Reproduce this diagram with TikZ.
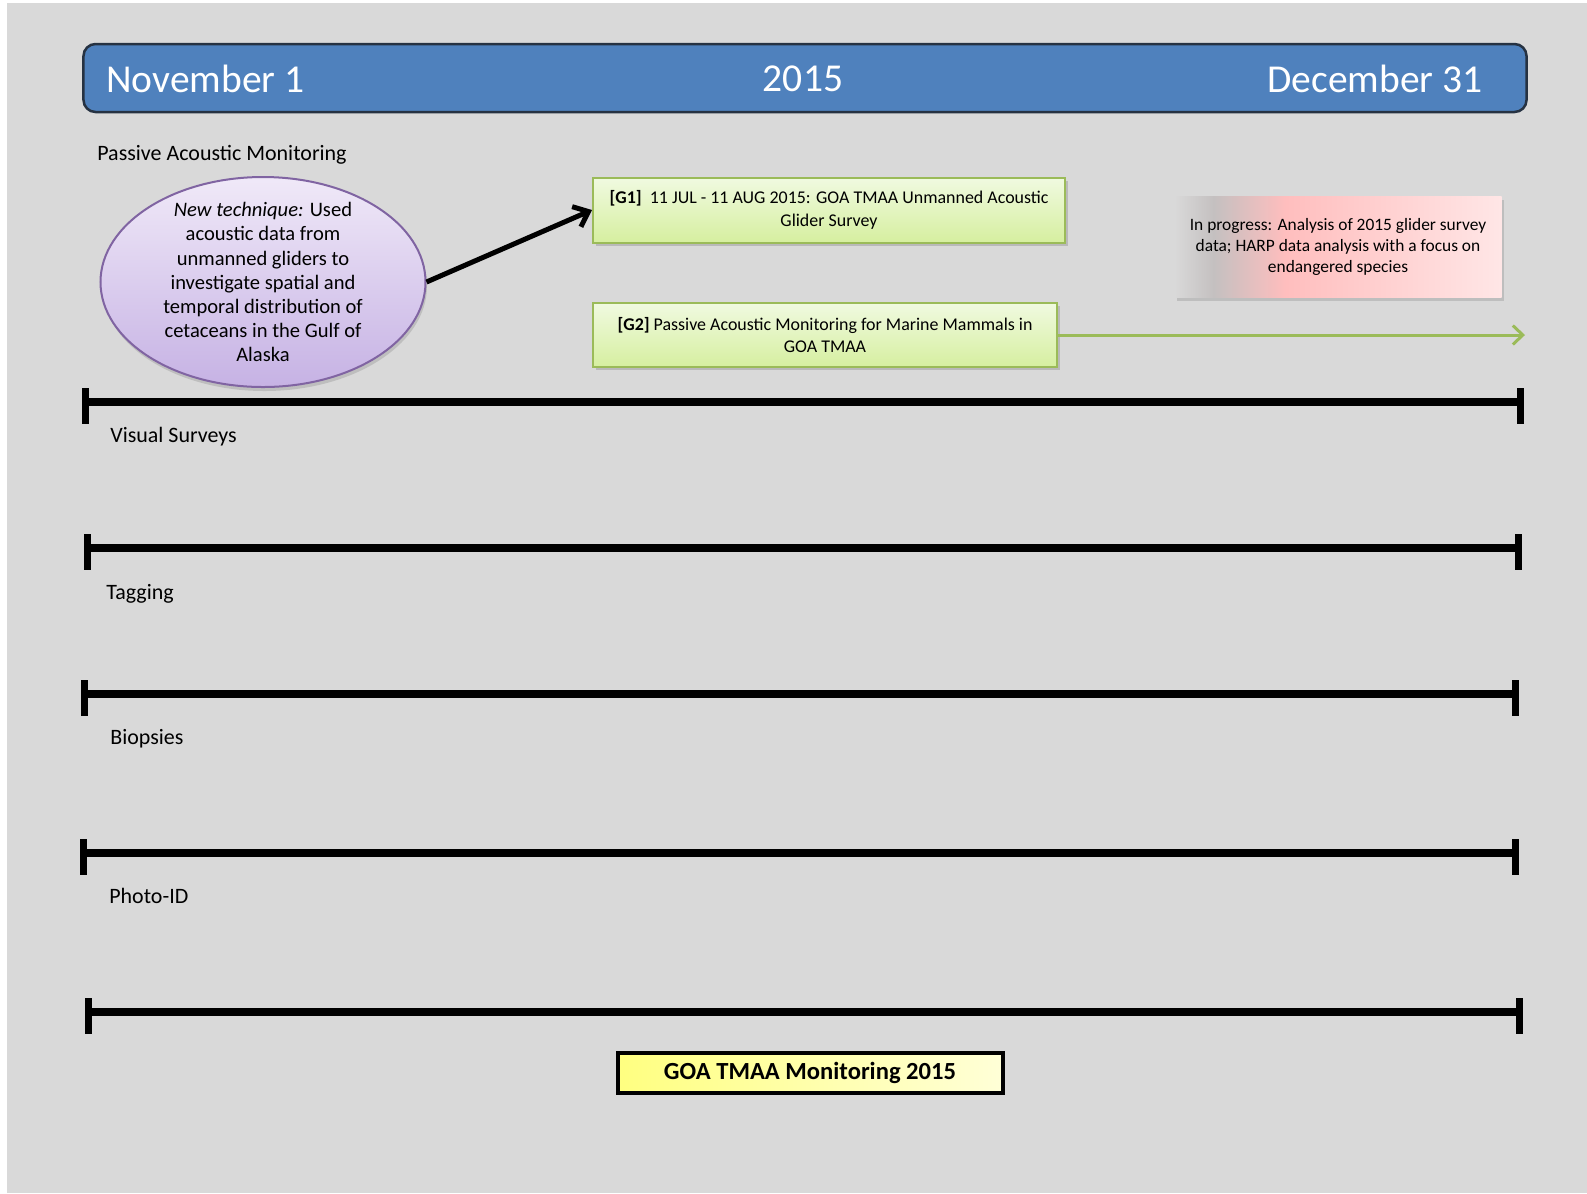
\documentclass[tikz,border=0pt]{standalone}
\usepackage{fontspec}
\setmainfont{Carlito}
\usepackage{xcolor}
\usepackage{tikz}
\usetikzlibrary{shadows}
\usetikzlibrary{positioning}
\usetikzlibrary{arrows.meta,shapes}
\usetikzlibrary{calc}

\definecolor{bggray}{RGB}{217,217,217}
\definecolor{hdrblue}{RGB}{79,129,189}
\definecolor{hdrline}{RGB}{38,50,66}
\definecolor{lilactop}{RGB}{240,233,248}
\definecolor{lilacbot}{RGB}{198,178,228}
\definecolor{lilacline}{RGB}{128,100,162}
\definecolor{greentop}{RGB}{240,250,224}
\definecolor{greenbot}{RGB}{214,239,160}
\definecolor{greenline}{RGB}{155,187,89}
\definecolor{pinkmid}{RGB}{255,190,190}
\definecolor{pinkend}{RGB}{255,230,230}
\definecolor{fadegray}{RGB}{196,192,192}
\definecolor{yelltop}{RGB}{255,255,128}
\definecolor{yellend}{RGB}{255,255,215}

\pgfdeclarehorizontalshading{pinkfade}{100bp}{color(0bp)=(bggray); color(25bp)=(bggray); color(31bp)=(fadegray); color(42bp)=(pinkmid); color(75bp)=(pinkend); color(100bp)=(pinkend)}

\tikzstyle{hdrbar}=[rectangle,rounded corners=2.4mm,draw=hdrline,line width=0.5mm,fill=hdrblue,minimum width=288.6mm,minimum height=13.6mm]
\tikzstyle{hdrtext}=[text=white,font=\fontsize{22.5}{27}\selectfont,inner sep=0pt]
\tikzstyle{rowlabel}=[anchor=west,font=\fontsize{12.5}{15}\selectfont,inner sep=0pt]
\tikzstyle{pamellipse}=[ellipse,draw=lilacline,line width=0.4mm,top color=lilactop,bottom color=lilacbot,minimum width=65mm,minimum height=42mm,drop shadow={shadow xshift=0.3mm,shadow yshift=-0.8mm,opacity=0.3}]
\tikzstyle{pamtext}=[align=center,inner sep=0pt,font=\fontsize{11.7}{13.7}\selectfont]
\tikzstyle{gbox}=[rectangle,draw=greenline,line width=0.4mm,top color=greentop,bottom color=greenbot,align=center,font=\fontsize{10.2}{13}\selectfont,drop shadow={shadow xshift=0.5mm,shadow yshift=-0.6mm,opacity=0.35}]
\tikzstyle{progbox}=[rectangle,shading=pinkfade,align=center,minimum width=65.4mm,minimum height=20.2mm,font=\fontsize{9.9}{12}\selectfont,drop shadow={shadow xshift=0.5mm,shadow yshift=-0.6mm,opacity=0.3}]
\tikzstyle{titlebox}=[rectangle,draw=black,line width=0.8mm,left color=yelltop,right color=yellend,minimum width=77mm,minimum height=8mm,font=\bfseries\fontsize{14}{17}\selectfont]
\tikzstyle{bar}=[draw,line width=1.6mm]
\tikzstyle{tick}=[draw,line width=1.4mm]
\tikzstyle{blackarrow}=[draw,line width=1mm,-{Straight Barb[length=2.6mm,width=4.4mm]}]
\tikzstyle{greenarrow}=[draw,greenline,line width=0.6mm,-{Straight Barb[length=2mm,width=3.8mm]}]

\begin{document}
\begin{tikzpicture}[x=0.2mm,y=-0.2mm]

 \useasboundingbox (0,0) rectangle (1587,1193);
 \fill[white] (0,0) rectangle (1587,1193);
 \fill[bggray] (7,3) rectangle (1587,1193);

 %header
 \node[hdrbar] (hdr) at (805,78) {};
 \node[hdrtext,anchor=west] (nov) at (106,79) {November 1};
 \node[hdrtext] (year) at (803,79) {2015};
 \node[hdrtext,anchor=east] (dec) at (1483,79) {December 31};

 %rows
 \foreach \x/\y/\name/\label in {97/155/pamlbl/Passive Acoustic Monitoring, 110/437/vislbl/Visual Surveys, 106/594/taglbl/Tagging, 110/739/biolbl/Biopsies, 109/896/photolbl/Photo-ID}
        \node[rowlabel] (\name) at (\x,\y) {\label};

 \foreach \i/\xl/\xr/\y in {1/85/1520/402, 2/87/1518/548, 3/84/1515/694, 4/83/1515/853, 5/88/1519/1012}
 {
   \coordinate (L\i) at (\xl,\y);
   \coordinate (R\i) at (\xr,\y);
   \path[bar] (L\i) -- (R\i);
   \path[tick] ([yshift=2.8mm]L\i) -- ([yshift=-4.4mm]L\i);
   \path[tick] ([yshift=2.8mm]R\i) -- ([yshift=-4.4mm]R\i);
 }

 %PAM
 \node[pamellipse] (pam) at (263,282) {};
 \node[pamtext] (pamtxt) at (pam.center) {\textit{New technique:} Used\\acoustic data from\\unmanned gliders to\\investigate spatial and\\temporal distribution of\\cetaceans in the Gulf of\\Alaska};

 \node[gbox,minimum width=94.4mm,minimum height=13mm] (g1) at (829,210) {\textbf{[G1]}\ \ 11 JUL - 11 AUG 2015: GOA TMAA Unmanned Acoustic\\Glider Survey};
 \node[gbox,minimum width=92.8mm,minimum height=12.8mm] (g2) at (825,335) {\textbf{[G2]} Passive Acoustic Monitoring for Marine Mammals in\\GOA TMAA};

 \node[progbox] (prog) at (1338,247) {In progress: Analysis of 2015 glider survey\\data; HARP data analysis with a focus on\\endangered species};

 \coordinate (g2end) at (1525,335);
 \path[blackarrow] (pam.east) -- (g1.west);
 \path[greenarrow] (g2.east) -- (g2end);

 %title
 \node[titlebox] (title) at (810,1073) {GOA TMAA Monitoring 2015};

\end{tikzpicture}
\end{document}
